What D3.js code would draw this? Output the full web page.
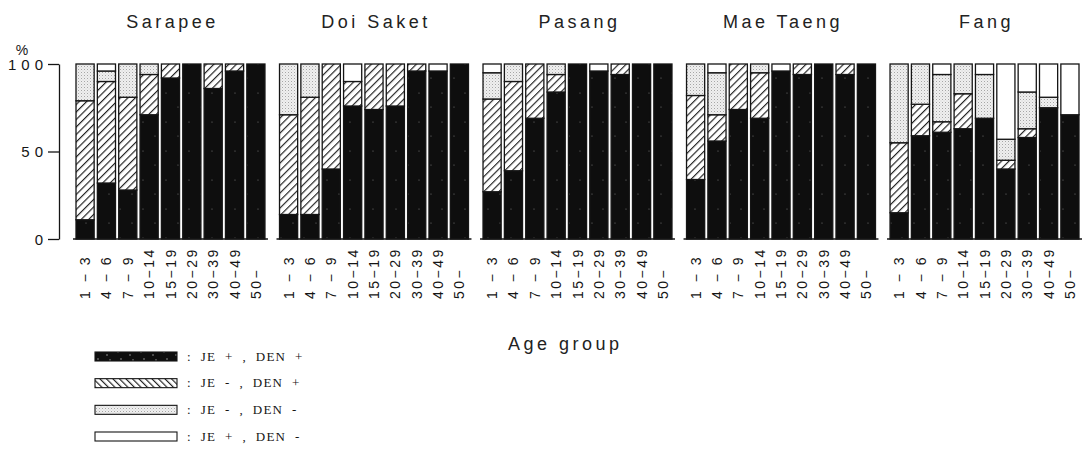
<!DOCTYPE html>
<html><head><meta charset="utf-8">
<script src="https://cdn.jsdelivr.net/npm/d3@7"></script>
<style>body{margin:0;background:#fff} svg{display:block}</style>
</head><body><svg id="c" width="1085" height="468"></svg>
<script>
const districts = ["Sarapee", "Doi Saket", "Pasang", "Mae Taeng", "Fang"];
const ageGroups = ["1 − 3", "4 − 6", "7 − 9", "10−14", "15−19", "20−29", "30−39", "40−49", "50−"];
const yTicks = [0, 50, 100];
const seriesKeys = ["jePosDenPos", "jeNegDenPos", "jeNegDenNeg", "jePosDenNeg"];
const seriesLabels = [":  JE  +  ,  DEN  +", ":  JE  -  ,  DEN  +", ":  JE  -  ,  DEN  -", ":  JE  +  ,  DEN  -"];
const axisTitle = "Age group";

// percent per district (rows) and age group (columns)
const jePosDenPos = [
  [11, 32, 28, 71, 92, 100, 86, 96, 100],
  [14, 14, 40, 76, 74, 76, 96, 96, 100],
  [27, 39, 69, 84, 100, 96, 94, 100, 100],
  [34, 56, 74, 69, 96, 94, 100, 94, 100],
  [15, 59, 61, 63, 69, 40, 58, 75, 71]
];
const jeNegDenPos = [
  [68, 58, 53, 23, 8, 0, 14, 4, 0],
  [57, 67, 60, 14, 26, 24, 4, 0, 0],
  [53, 51, 31, 10, 0, 0, 6, 0, 0],
  [48, 15, 26, 26, 0, 6, 0, 6, 0],
  [40, 18, 6, 20, 0, 5, 5, 0, 0]
];
const jeNegDenNeg = [
  [21, 6, 19, 6, 0, 0, 0, 0, 0],
  [29, 19, 0, 0, 0, 0, 0, 0, 0],
  [15, 10, 0, 6, 0, 0, 0, 0, 0],
  [18, 24, 0, 5, 0, 0, 0, 0, 0],
  [45, 23, 27, 17, 25, 12, 21, 6, 0]
];
const jePosDenNeg = [
  [0, 4, 0, 0, 0, 0, 0, 0, 0],
  [0, 0, 0, 10, 0, 0, 0, 4, 0],
  [5, 0, 0, 0, 0, 4, 0, 0, 0],
  [0, 5, 0, 0, 4, 0, 0, 0, 0],
  [0, 0, 6, 0, 6, 43, 16, 19, 29]
];
const seriesData = [jePosDenPos, jeNegDenPos, jeNegDenNeg, jePosDenNeg];

const svg = d3.select("#c");
const sans = "'Liberation Sans', Arial, sans-serif";
const ink = "#151515";

// ---------- patterns ----------
const defs = svg.append("defs");
function blackPat(id, speck) {
  const p = defs.append("pattern").attr("id", id).attr("patternUnits", "userSpaceOnUse")
    .attr("width", 23).attr("height", 29);
  p.append("rect").attr("width", 23).attr("height", 29).attr("fill", "#0e0e0e");
  const pts = speck ? [[3,4],[9,2],[15,7],[20,3],[6,11],[12,14],[18,12],[2,18],[9,21],[16,19],[21,24],[5,26],[13,26]]
                    : [[5,6],[17,20]];
  p.selectAll("circle").data(pts).join("circle").attr("cx", d => d[0]).attr("cy", d => d[1])
    .attr("r", speck ? 0.8 : 0.6).attr("fill", speck ? "#9a9a9a" : "#777");
}
function hatchPat(id, angle, gap) {
  const p = defs.append("pattern").attr("id", id).attr("patternUnits", "userSpaceOnUse")
    .attr("width", gap).attr("height", gap).attr("patternTransform", `rotate(${angle})`);
  p.append("rect").attr("width", gap).attr("height", gap).attr("fill", "#fff");
  p.append("line").attr("x1", 0.6).attr("x2", 0.6).attr("y1", 0).attr("y2", gap)
    .attr("stroke", ink).attr("stroke-width", 1.1);
}
function stipplePat(id) {
  const p = defs.append("pattern").attr("id", id).attr("patternUnits", "userSpaceOnUse")
    .attr("width", 3).attr("height", 3);
  p.append("rect").attr("width", 3).attr("height", 3).attr("fill", "#efefef");
  p.append("rect").attr("x", 0).attr("y", 0).attr("width", 1).attr("height", 1).attr("fill", "#a6a6a6");
  p.append("rect").attr("x", 1.5).attr("y", 1.5).attr("width", 1).attr("height", 1).attr("fill", "#cfcfcf");
}
blackPat("pBlack", false);
blackPat("pBlackL", true);
hatchPat("pHatch", 45, 5.3);
hatchPat("pHatchL", -45, 4.6);
stipplePat("pStip");
const barFills = ["url(#pBlack)", "url(#pHatch)", "url(#pStip)", "#fff"];
const legendFills = ["url(#pBlackL)", "url(#pHatchL)", "url(#pStip)", "#fff"];

// ---------- scales ----------
const panelX = d3.scaleBand().domain(districts).range([73, 1082]).paddingInner(0.042);
const y = d3.scaleLinear().domain([0, 100]).range([239, 64]);

// y axis
const yAxis = svg.append("g").attr("transform", "translate(59,0)")
  .call(d3.axisLeft(y).tickValues(yTicks).tickSize(11).tickPadding(0).tickSizeOuter(0));
yAxis.selectAll("path, line").attr("stroke", ink).attr("stroke-width", 1.3);
yAxis.selectAll("text").attr("font-family", sans).attr("font-size", 15).attr("fill", ink)
  .attr("letter-spacing", 5).attr("dy", "0.36em");
svg.append("text").attr("x", 22).attr("y", 55).attr("text-anchor", "middle")
  .attr("font-family", sans).attr("font-size", 14).attr("fill", ink).text("%");

districts.forEach((dName, i) => {
  const px = panelX(dName), bw = panelX.bandwidth();
  const x = d3.scaleBand().domain(ageGroups).range([px + 3, px + bw - 3]).paddingInner(0.15);
  const rows = ageGroups.map((a, j) => {
    const r = { age: a };
    seriesKeys.forEach((k, s) => r[k] = seriesData[s][i][j]);
    return r;
  });
  const stacked = d3.stack().keys(seriesKeys)(rows);
  const g = svg.append("g");

  g.selectAll("g.layer").data(stacked).join("g").attr("class", "layer")
    .attr("fill", (s, k) => barFills[k])
    .selectAll("rect").data(s => s.filter(v => v[1] - v[0] > 0)).join("rect")
    .attr("x", v => x(v.data.age)).attr("width", x.bandwidth())
    .attr("y", v => y(v[1])).attr("height", v => y(v[0]) - y(v[1]))
    .attr("stroke", ink).attr("stroke-width", 1.3);

  // baseline
  g.append("line").attr("x1", px).attr("x2", px + bw).attr("y1", y(0)).attr("y2", y(0))
    .attr("stroke", ink).attr("stroke-width", 1.3);

  // title
  g.append("text").attr("x", px + bw / 2 + 2).attr("y", 28).attr("text-anchor", "middle")
    .attr("font-family", sans).attr("font-size", 18).attr("letter-spacing", 3.5)
    .attr("fill", "#222").text(dName);

  // age tick labels
  const ax = g.append("g").attr("transform", `translate(0,${y(0)})`)
    .call(d3.axisBottom(x).tickSize(0).tickSizeOuter(0));
  ax.select(".domain").remove();
  ax.selectAll("text").attr("font-family", sans).attr("font-size", 14).attr("fill", ink)
    .attr("letter-spacing", 2.5)
    .attr("x", 0).attr("y", 0).attr("dy", "0.36em")
    .attr("text-anchor", "start").attr("transform", "translate(0,60) rotate(-90)");
});

svg.append("text").attr("x", 508).attr("y", 350).attr("font-family", sans)
  .attr("font-size", 18).attr("letter-spacing", 3.5).attr("fill", "#222").text(axisTitle);

// legend
const ly = d3.scaleLinear().domain([0, 3]).range([352, 432]);
const leg = svg.append("g");
seriesLabels.forEach((lab, k) => {
  leg.append("rect").attr("x", 95).attr("y", ly(k)).attr("width", 82).attr("height", 9)
    .attr("fill", legendFills[k]).attr("stroke", ink).attr("stroke-width", 1.1);
  leg.append("text").attr("x", 187).attr("y", ly(k) + 8.5)
    .attr("font-family", "'Liberation Serif', 'Times New Roman', serif").attr("font-size", 13)
    .attr("letter-spacing", 1.2)
    .attr("fill", ink).text(lab.replace(/ /g, "\u00A0"));
});
</script></body></html>
